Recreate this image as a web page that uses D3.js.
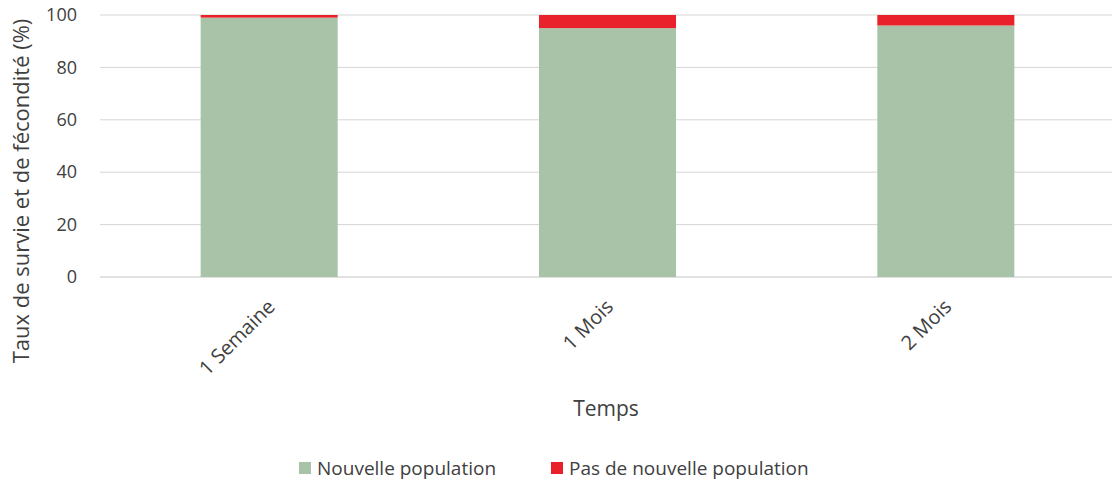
<!DOCTYPE html>
<html>
<head>
<meta charset="utf-8">
<script src="https://cdn.jsdelivr.net/npm/d3@7"></script>
<style>
  html, body { margin: 0; padding: 0; background: #ffffff; }
  svg text { font-family: "Open Sans", "Noto Sans", sans-serif; fill: #404040; }
</style>
</head>
<body>
<svg id="chart" width="1112" height="489"></svg>
<script>
// Stacked survival / fecundity percentages over time
const categories = ["1 Semaine", "1 Mois", "2 Mois"];
const nouvellePopulation = [99, 95, 96];
const pasDeNouvellePopulation = [1, 5, 4];
const seriesNames = ["Nouvelle population", "Pas de nouvelle population"];
const seriesColors = ["#a9c3a9", "#e8212b"];
const yTicks = [0, 20, 40, 60, 80, 100];

const svg = d3.select("#chart");
const margin = { top: 15, right: -3, bottom: 212, left: 100 };
const W = 1112, H = 489;
const plotW = W - margin.left - margin.right;
const plotH = H - margin.top - margin.bottom;

const rows = categories.map((c, i) => ({
  cat: c,
  [seriesNames[0]]: nouvellePopulation[i],
  [seriesNames[1]]: pasDeNouvellePopulation[i]
}));
const stacked = d3.stack().keys(seriesNames)(rows);

const x = d3.scaleBand().domain(categories).range([0, plotW]).paddingInner(0.595).paddingOuter(0.2975);
const y = d3.scaleLinear().domain([0, 100]).range([plotH, 0]);

const g = svg.append("g").attr("transform", `translate(${margin.left},${margin.top})`);

// gridlines
g.append("g").selectAll("line").data(yTicks).join("line")
  .attr("x1", 0).attr("x2", plotW)
  .attr("y1", d => y(d)).attr("y2", d => y(d))
  .attr("stroke", d => d === 0 ? "#c4c4c4" : "#d6d6d6")
  .attr("stroke-width", 1);

// y axis labels
const yAxis = d3.axisLeft(y).tickValues(yTicks).tickSize(0).tickPadding(23);
const yg = g.append("g").call(yAxis);
yg.select(".domain").remove();
yg.selectAll("text").style("font-size", "18px").attr("fill", "#404040");

// bars
g.append("g").selectAll("g").data(stacked).join("g")
  .attr("fill", (d, i) => seriesColors[i])
  .selectAll("rect").data(d => d).join("rect")
  .attr("x", d => x(d.data.cat))
  .attr("width", x.bandwidth())
  .attr("y", d => y(d[1]))
  .attr("height", d => y(d[0]) - y(d[1]));

// x axis labels, rotated
const xg = g.append("g").attr("transform", `translate(0,${plotH})`);
xg.selectAll("text").data(categories).join("text")
  .attr("transform", d => `translate(${x(d) + x.bandwidth() / 2 + 2},${26}) rotate(-45)`)
  .attr("text-anchor", "end")
  .attr("dy", "0.35em")
  .style("font-size", "20px")
  .text(d => d);

// axis titles
svg.append("text")
  .attr("x", 606).attr("y", 416)
  .attr("text-anchor", "middle")
  .style("font-size", "21px")
  .text("Temps");

svg.append("text")
  .attr("transform", "translate(29,191) rotate(-90)")
  .attr("text-anchor", "middle")
  .style("font-size", "22px")
  .text("Taux de survie et de fécondité (%)");

// legend
const legend = svg.append("g").attr("transform", "translate(299,468)");
const legendX = [0, 252];
seriesNames.forEach((name, i) => {
  const lg = legend.append("g").attr("transform", `translate(${legendX[i]},0)`);
  lg.append("rect").attr("x", 0).attr("y", -6).attr("width", 12).attr("height", 12).attr("fill", seriesColors[i]);
  lg.append("text").attr("x", 18).attr("y", 0).attr("dy", "0.35em").style("font-size", "19px").text(name);
});
</script>
</body>
</html>
